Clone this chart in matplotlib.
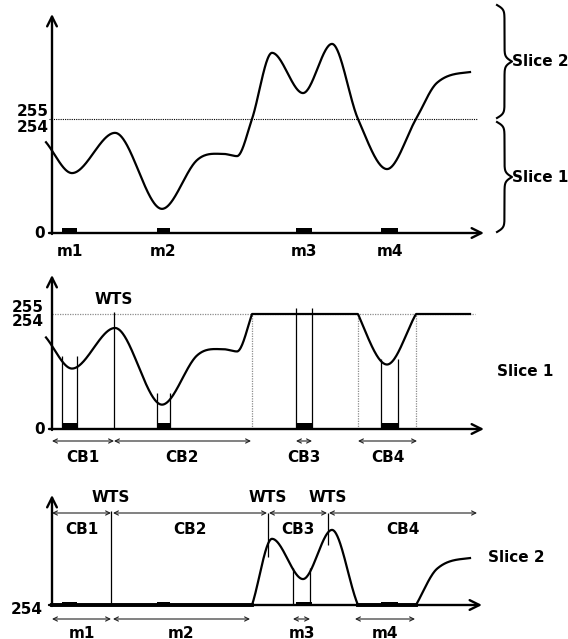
import matplotlib
matplotlib.use("Agg")
import matplotlib.pyplot as plt
import numpy as np

W, H = 568, 639

# signal key points: position along x, intensity
sig_x = [46, 72, 115, 162, 197, 223, 237, 252, 272, 303, 332, 358, 387, 416, 437, 470]
sig_v = [203, 134, 224, 54, 163, 177, 172, 255, 403, 313, 423, 255, 143, 255, 336, 360]

# motifs m1..m4 (start / end on x)
m_names = ["m1", "m2", "m3", "m4"]
m_start = [62, 157, 296, 381]
m_end = [77, 170, 312, 398]

# slice 1 code blocks
cb_names = ["CB1", "CB2", "CB3", "CB4"]
cb1_left = [52, 114, 296, 358]
cb1_right = [114, 251, 312, 417]
cb1_fence_top = [162, 80, 268, 155]
wts1_x = [114]

# slice 2 code blocks
cb2_left = [52, 113, 269, 329]
cb2_right = [111, 267, 327, 477]
wts2_x = [111, 268, 328]
wts2_top = [511, 513, 513]
wts2_bottom = [605, 557, 545]
m2_left = [52, 113, 293, 355]
m2_right = [111, 250, 310, 415]

THR = 255


def smooth(xk, yk, n=900):
    xk = np.asarray(xk, float)
    yk = np.asarray(yk, float)
    d = np.diff(yk) / np.diff(xk)
    m = np.zeros_like(yk)
    for i in range(1, len(yk) - 1):
        if d[i - 1] * d[i] > 0:
            m[i] = (yk[i + 1] - yk[i - 1]) / (xk[i + 1] - xk[i - 1])
    m[0] = d[0]
    m[-1] = d[-1] * 0.4
    x = np.linspace(xk[0], xk[-1], n)
    idx = np.clip(np.searchsorted(xk, x) - 1, 0, len(xk) - 2)
    h = xk[idx + 1] - xk[idx]
    s = (x - xk[idx]) / h
    y = ((2 * s**3 - 3 * s**2 + 1) * yk[idx] + (s**3 - 2 * s**2 + s) * h * m[idx]
         + (-2 * s**3 + 3 * s**2) * yk[idx + 1] + (s**3 - s**2) * h * m[idx + 1])
    return x, y


def panel(fig, top_px, bot_px, base_px, base_val, px_per_unit):
    ax = fig.add_axes([0, 1 - bot_px / H, 1, (bot_px - top_px) / H])
    ax.set_xlim(0, W)
    ax.set_ylim(base_val - (bot_px - base_px) / px_per_unit,
                base_val + (base_px - top_px) / px_per_unit)
    ax.axis("off")
    ax.patch.set_alpha(0)
    return ax


def brace(ax, x, y0, y1, w, beta=0.45):
    half = np.linspace(0, (y1 - y0) / 2, 150)
    prof = 1 / (1 + np.exp(-beta * (half - half[0]))) + 1 / (1 + np.exp(-beta * (half - half[-1])))
    full = np.concatenate([prof, prof[::-1][1:]])
    yy = np.linspace(y0, y1, len(full))
    ax.plot(x + (full - 0.5) * w, yy, color="black", lw=1.5)


def axes_arrows(ax, base, top, right):
    head = dict(arrowstyle="->,head_length=0.7,head_width=0.35", lw=1.7, color="black",
                shrinkA=0, shrinkB=0)
    ax.annotate("", xy=(52, top), xytext=(52, base + 1), arrowprops=head)
    ax.annotate("", xy=(right, base), xytext=(49, base), arrowprops=head)


def span_arrow(ax, x0, x1, y):
    ax.annotate("", xy=(x1, y), xytext=(x0, y),
                arrowprops=dict(arrowstyle="<->,head_length=0.3,head_width=0.15", lw=0.8,
                                color="#222222", shrinkA=0, shrinkB=0))


def label(ax, x, y, s, ha="center"):
    ax.text(x, y, s, ha=ha, va="center", fontsize=11, fontweight="bold")


x, v = smooth(sig_x, sig_v)
cross_x = [sx for sx, sv in zip(sig_x, sig_v) if sv == THR]
m_mid = [(a + b) / 2 for a, b in zip(m_start, m_end)]
m_w = [b - a for a, b in zip(m_start, m_end)]

fig = plt.figure(figsize=(W / 100, H / 100), dpi=100)

# top: full signal
ax1 = panel(fig, 0, 262, 233, 0, 114 / 255)
ax1.hlines(THR, 49, 477, colors="black", linestyles=(0, (1, 1)), lw=0.8)
ax1.plot(x, v, color="black", lw=1.6)
ax1.bar(m_start, 11, width=m_w, align="edge", color="black")

# middle: slice 1 (values clipped at 255)
ax2 = panel(fig, 265, 465, 429, 0, 115 / 255)
ax2.hlines(THR, 52, 475, colors="0.55", linestyles=(0, (1, 1)), lw=0.9)
ax2.vlines(cross_x, 0, THR, colors="0.55", linestyles=(0, (1, 1)), lw=0.9)
ax2.plot(x, np.minimum(v, THR), color="black", lw=1.6)
ax2.bar(m_start, 13, width=m_w, align="edge", color="black")
ax2.vlines(m_start, 0, cb1_fence_top, colors="black", lw=0.9)
ax2.vlines(m_end, 0, cb1_fence_top, colors="black", lw=0.9)
ax2.vlines(wts1_x, 0, 259, colors="black", lw=0.9)

# bottom: slice 2 (values above 255)
ax3 = panel(fig, 470, 639, 605, THR, 114 / 255)
keep = x >= 52
v2 = np.maximum(v[keep], THR)
ax3.plot(x[keep], v2, color="black", lw=1.6)
ax3.plot(x[keep], np.where(v[keep] <= THR, THR, np.nan), color="black", lw=2.8)
ax3.bar(m_start, 7, width=m_w, bottom=THR, align="edge", color="black")

ov = fig.add_axes([0, 0, 1, 1])
ov.set_xlim(0, W)
ov.set_ylim(H, 0)
ov.axis("off")
ov.patch.set_alpha(0)

# top panel decorations
axes_arrows(ov, 233, 14, 484)
label(ov, 49, 112, "255", ha="right")
label(ov, 49, 128, "254", ha="right")
label(ov, 45, 234, "0", ha="right")
for mx, name in zip(m_mid, m_names):
    label(ov, mx, 252, name)
brace(ov, 497, 5, 118, 15)
brace(ov, 497, 122, 232, 15)
label(ov, 512, 62, "Slice 2", ha="left")
label(ov, 512, 177, "Slice 1", ha="left")

# middle panel decorations
axes_arrows(ov, 429, 275, 484)
label(ov, 44, 307, "255", ha="right")
label(ov, 44, 322, "254", ha="right")
label(ov, 45, 430, "0", ha="right")
label(ov, wts1_x[0], 299, "WTS")
for a, b, name in zip(cb1_left, cb1_right, cb_names):
    span_arrow(ov, a, b, 441)
    label(ov, (a + b) / 2, 457, name)
label(ov, 497, 372, "Slice 1", ha="left")

# bottom panel decorations
axes_arrows(ov, 605, 495, 482)
label(ov, 43, 609, "254", ha="right")
for wx, t0, t1 in zip(wts2_x, wts2_top, wts2_bottom):
    ov.vlines(wx, t0, t1, colors="black", lw=0.9)
    label(ov, wx, 498, "WTS")
ov.vlines([m2_left[2], m2_right[2]], 568, 605, colors="black", lw=0.9)
for a, b, name in zip(cb2_left, cb2_right, cb_names):
    span_arrow(ov, a, b, 513)
    label(ov, (a + b) / 2, 530, name)
for a, b, name in zip(m2_left, m2_right, m_names):
    span_arrow(ov, a, b, 619)
    label(ov, (a + b) / 2, 633, name)
label(ov, 488, 558, "Slice 2", ha="left")

fig.savefig("out.png", dpi=100)
